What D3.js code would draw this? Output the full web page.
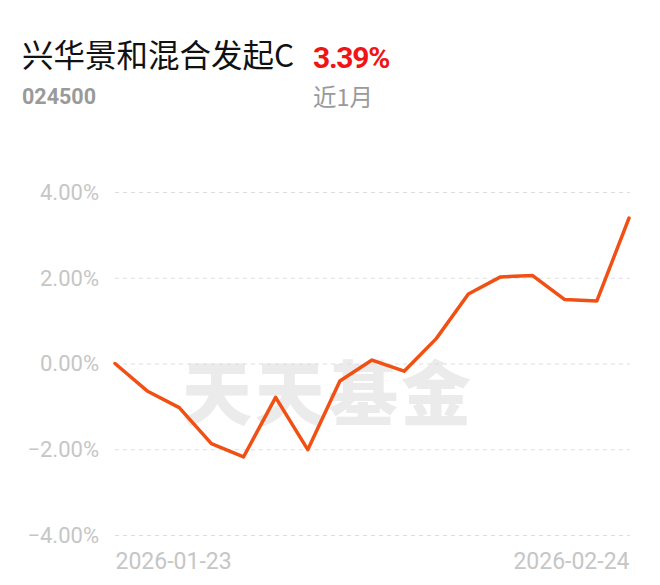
<!DOCTYPE html>
<html><head><meta charset="utf-8">
<script src="https://cdn.jsdelivr.net/npm/d3@7"></script>
<style>html,body{margin:0;padding:0;background:#fff;}svg{display:block;}</style>
</head><body>
<svg id="c" width="660" height="585"></svg>
<script>
const fundName = "兴华景和混合发起C";
const fundCode = "024500";
const periodReturn = "3.39%";
const periodLabel = "近1月";
const dates = ["2026-01-23","2026-01-26","2026-01-27","2026-01-28","2026-01-29","2026-01-30","2026-02-02","2026-02-03","2026-02-04","2026-02-05","2026-02-06","2026-02-09","2026-02-10","2026-02-11","2026-02-12","2026-02-13","2026-02-24"];
const returns = [0.00,-0.64,-1.03,-1.87,-2.18,-0.79,-2.01,-0.41,0.08,-0.18,0.58,1.62,2.02,2.05,1.49,1.46,3.39];
const yTicks = [4,2,0,-2,-4];
const xTickLabels = ["2026-01-23","2026-02-24"];

const svg = d3.select("#c");
const pL = 115, pR = 629, pT = 192, pB = 535;
const x = d3.scalePoint().domain(dates).range([pL, pR]);
const y = d3.scaleLinear().domain([-4, 4]).range([pB, pT]);

// header
svg.append("text").attr("x", 22).attr("y", 67).attr("font-family", "'Noto Sans CJK SC', sans-serif")
  .attr("font-size", 31.5).attr("fill", "#111").text(fundName);
svg.append("text").attr("x", 313).attr("y", 68).attr("font-family", "Roboto, sans-serif").attr("font-weight", 700)
  .attr("font-size", 30).attr("fill", "#f01414").attr("letter-spacing", -1.3).text(periodReturn);
svg.append("text").attr("x", 22).attr("y", 104).attr("font-family", "Roboto, sans-serif").attr("font-weight", 700)
  .attr("font-size", 21.5).attr("fill", "#9a9a9a").text(fundCode);
svg.append("text").attr("x", 313).attr("y", 106).attr("font-family", "'Noto Sans CJK SC', sans-serif")
  .attr("font-size", 23.5).attr("fill", "#9a9a9a").text(periodLabel);

// watermark
svg.append("text").attr("x", 328).attr("y", 420).attr("text-anchor", "middle")
  .attr("font-family", "'Noto Sans CJK SC', sans-serif").attr("font-weight", 900)
  .attr("font-size", 70).attr("letter-spacing", 3).attr("fill", "#ebebeb").text("天天基金");

// grid
const yAxis = d3.axisLeft(y).tickValues(yTicks).tickSize(-(pR - pL + 1)).tickPadding(16)
  .tickFormat(d => (d < 0 ? "\u2212" + Math.abs(d).toFixed(2) : d.toFixed(2)) + "%");
const ga = svg.append("g").attr("transform", `translate(${pL},0)`).call(yAxis);
ga.select(".domain").remove();
ga.selectAll(".tick line").attr("stroke", "#dedede").attr("stroke-width", 1.2).attr("stroke-dasharray", "4,4");
ga.selectAll(".tick text").attr("font-family", "Roboto, sans-serif").attr("font-size", 22)
  .attr("fill", "#c6c6c6").attr("x", -16).attr("dy", "0.33em");

// x labels
const xAxis = d3.axisBottom(x).tickValues(xTickLabels).tickSize(0).tickPadding(0);
const gx = svg.append("g").attr("transform", `translate(0,${pB})`).call(xAxis);
gx.select(".domain").remove();
gx.selectAll(".tick text").attr("font-family", "Roboto, sans-serif").attr("font-size", 23)
  .attr("fill", "#c6c6c6").attr("y", 34).attr("dy", 0)
  .attr("text-anchor", (d, i) => i === 0 ? "start" : "end");

// line
const line = d3.line().x((d, i) => x(dates[i])).y(d => y(d));
svg.append("path").datum(returns).attr("d", line).attr("fill", "none")
  .attr("stroke", "#f05014").attr("stroke-width", 3.5).attr("stroke-linejoin", "round").attr("stroke-linecap", "round");
</script>
</body></html>
